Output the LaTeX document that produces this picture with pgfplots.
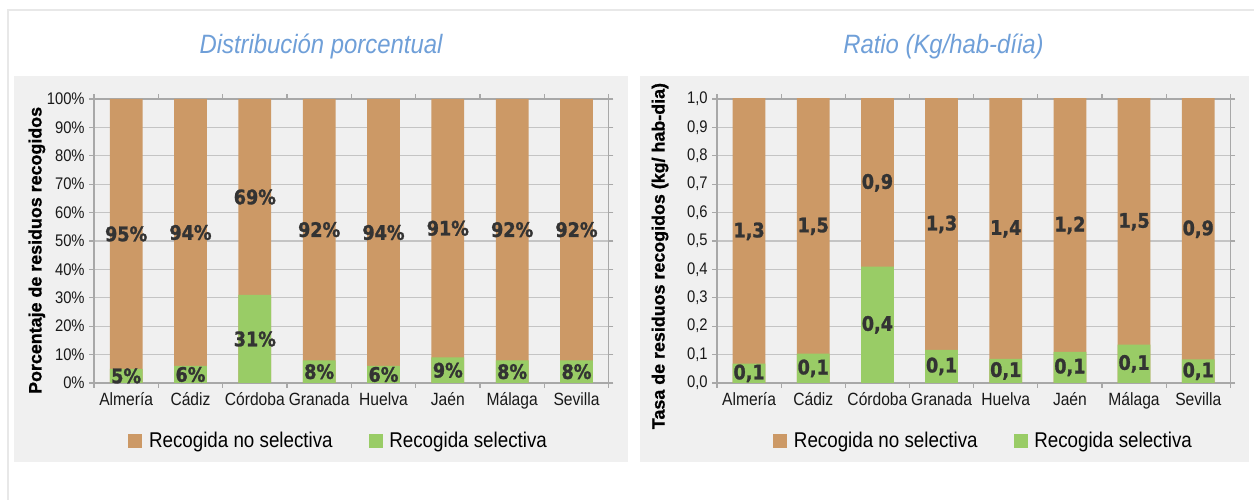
\documentclass[border=0pt]{standalone}
\usepackage{fontspec}
\setmainfont{Liberation Sans}
\newfontfamily\cond[FakeStretch=0.88]{Liberation Sans}
\newfontfamily\lbl[FakeStretch=0.88, BoldFont={DejaVu Sans Bold}, BoldFeatures={FakeStretch=0.88, FakeBold=1.3}]{DejaVu Sans}
\newfontfamily\ylab[BoldFont={Liberation Sans Bold}, BoldFeatures={FakeBold=0.9}]{Liberation Sans}
\newfontfamily\ttl[FakeStretch=0.9]{Liberation Sans}
\usepackage{pgfplots}
\pgfplotsset{compat=1.18}

\definecolor{nosel}{HTML}{CC9966}
\definecolor{sel}{HTML}{99CC66}
\definecolor{panel}{HTML}{F0F0F0}
\definecolor{gridc}{HTML}{C4C4C4}
\definecolor{axisc}{HTML}{A8A8A8}
\definecolor{ttlc}{HTML}{6F9FD8}
\definecolor{lblc}{HTML}{333333}

\pgfplotsset{
  panel/.style={
    scale only axis, width=386pt, height=213pt, anchor=south west,
    xmin=-0.5, xmax=7.5, ymin=0,
    xtick={-0.5,0.5,...,7.5},
    x tick label as interval,
    xticklabels={Almería,Cádiz,Córdoba,Granada,Huelva,Jaén,Málaga,Sevilla},
    x tick label style={font=\cond\fontsize{13.3}{15}\selectfont, text=black!90},
    y tick label style={font=\cond\fontsize{12.6}{15}\selectfont, text=black!90},
    /pgf/number format/assume math mode=true,
    axis line style={draw=axisc, line width=0.8pt},
    ymajorgrids, grid style={draw=gridc, line width=0.8pt},
    tick align=outside, major tick length=3.5pt,
    tick style={draw=axisc, line width=0.8pt},
    ylabel style={font=\ylab\bfseries\fontsize{13.4}{15}\selectfont, anchor=center},
    legend columns=2,
    legend style={draw=none, fill=none, anchor=center,
      font=\cond\fontsize{16}{18}\selectfont,
      /tikz/every odd column/.append style={column sep=3pt},
      /tikz/every even column/.append style={column sep=25pt}},
    legend image code/.code={\path[#1, draw=none] (0pt,-5.25pt) rectangle (10.5pt,5.25pt);},
  },
  bars/.style={ybar, bar width=0.51, bar shift=0pt, draw=none},
  lbls/.style={only marks, mark=none, forget plot, nodes near coords,
    point meta=explicit symbolic,
    every node near coord/.append style={anchor=center, text=lblc,
      font=\lbl\bfseries\fontsize{15}{17}\selectfont}},
}

\begin{document}
\begin{tikzpicture}
\path[use as bounding box] (0,0) rectangle (940.5pt,375pt);
\draw[black!9, line width=1pt] (6pt,-10pt) -- (6pt,367.5pt) -- (950pt,367.5pt);
\fill[panel] (10.5pt,28.5pt) rectangle (471pt,318pt);
\fill[panel] (480pt,28.5pt) rectangle (936.75pt,318pt);

\node[font=\ttl\itshape\fontsize{19.9}{22}\selectfont, text=ttlc] at (240.75pt,340.5pt) {Distribución porcentual};
\node[font=\ttl\itshape\fontsize{19.9}{22}\selectfont, text=ttlc] at (707.6pt,340.5pt) {Ratio (Kg/hab-díia)};

% Distribución porcentual
\begin{axis}[panel, at={(70.5pt,87.75pt)},
  ymax=100, ytick={0,10,...,100},
  yticklabel={\pgfmathprintnumber{\tick}\%},
  ylabel={Porcentaje de residuos recogidos},
  ylabel style={at={(axis description cs:-0.111,0.467)}},
  legend style={at={(0.476,-0.204)}},
]
\addplot[bars, fill=nosel] coordinates {
  (0,100) (1,100) (2,100) (3,100) (4,100) (5,100) (6,100) (7,100)};
\addplot[bars, fill=sel] coordinates {
  (0,5) (1,6) (2,31) (3,8) (4,6) (5,9) (6,8) (7,8)};
\addplot[lbls] coordinates {
  (0,52.5) [95\%] (1,53) [94\%] (2,65.5) [69\%] (3,54) [92\%]
  (4,53) [94\%] (5,54.5) [91\%] (6,54) [92\%] (7,54) [92\%]};
\addplot[lbls] coordinates {
  (0,2.5) [5\%] (1,3) [6\%] (2,15.5) [31\%] (3,4) [8\%]
  (4,3) [6\%] (5,4.5) [9\%] (6,4) [8\%] (7,4) [8\%]};
\legend{Recogida no selectiva, Recogida selectiva}
\end{axis}

% Ratio (kg/hab-dia)
\begin{axis}[panel, at={(537.75pt,87.75pt)}, width=385pt,
  ymax=1, ytick={0,0.1,...,1.0},
  yticklabel style={/pgf/number format/.cd, fixed, fixed zerofill, precision=1, use comma},
  ylabel={Tasa de residuos recogidos (kg/ hab-dia)},
  ylabel style={at={(axis description cs:-0.111,0.447)}},
  legend style={at={(0.52,-0.204)}},
]
\addplot[bars, fill=nosel] coordinates {
  (0,1.368) (1,1.603) (2,1.31) (3,1.417) (4,1.485) (5,1.31) (6,1.635) (7,1.03)};
\addplot[bars, fill=sel] coordinates {
  (0,0.068) (1,0.103) (2,0.41) (3,0.117) (4,0.085) (5,0.11) (6,0.135) (7,0.083)};
\addplot[lbls] coordinates {
  (0,0.534) [1,3] (1,0.5515) [1,5] (2,0.705) [0,9] (3,0.5585) [1,3]
  (4,0.5425) [1,4] (5,0.555) [1,2] (6,0.5675) [1,5] (7,0.5415) [0,9]};
\addplot[lbls] coordinates {
  (0,0.034) [0,1] (1,0.0515) [0,1] (2,0.205) [0,4] (3,0.0585) [0,1]
  (4,0.0425) [0,1] (5,0.055) [0,1] (6,0.0675) [0,1] (7,0.0415) [0,1]};
\legend{Recogida no selectiva, Recogida selectiva}
\end{axis}
\end{tikzpicture}
\end{document}
